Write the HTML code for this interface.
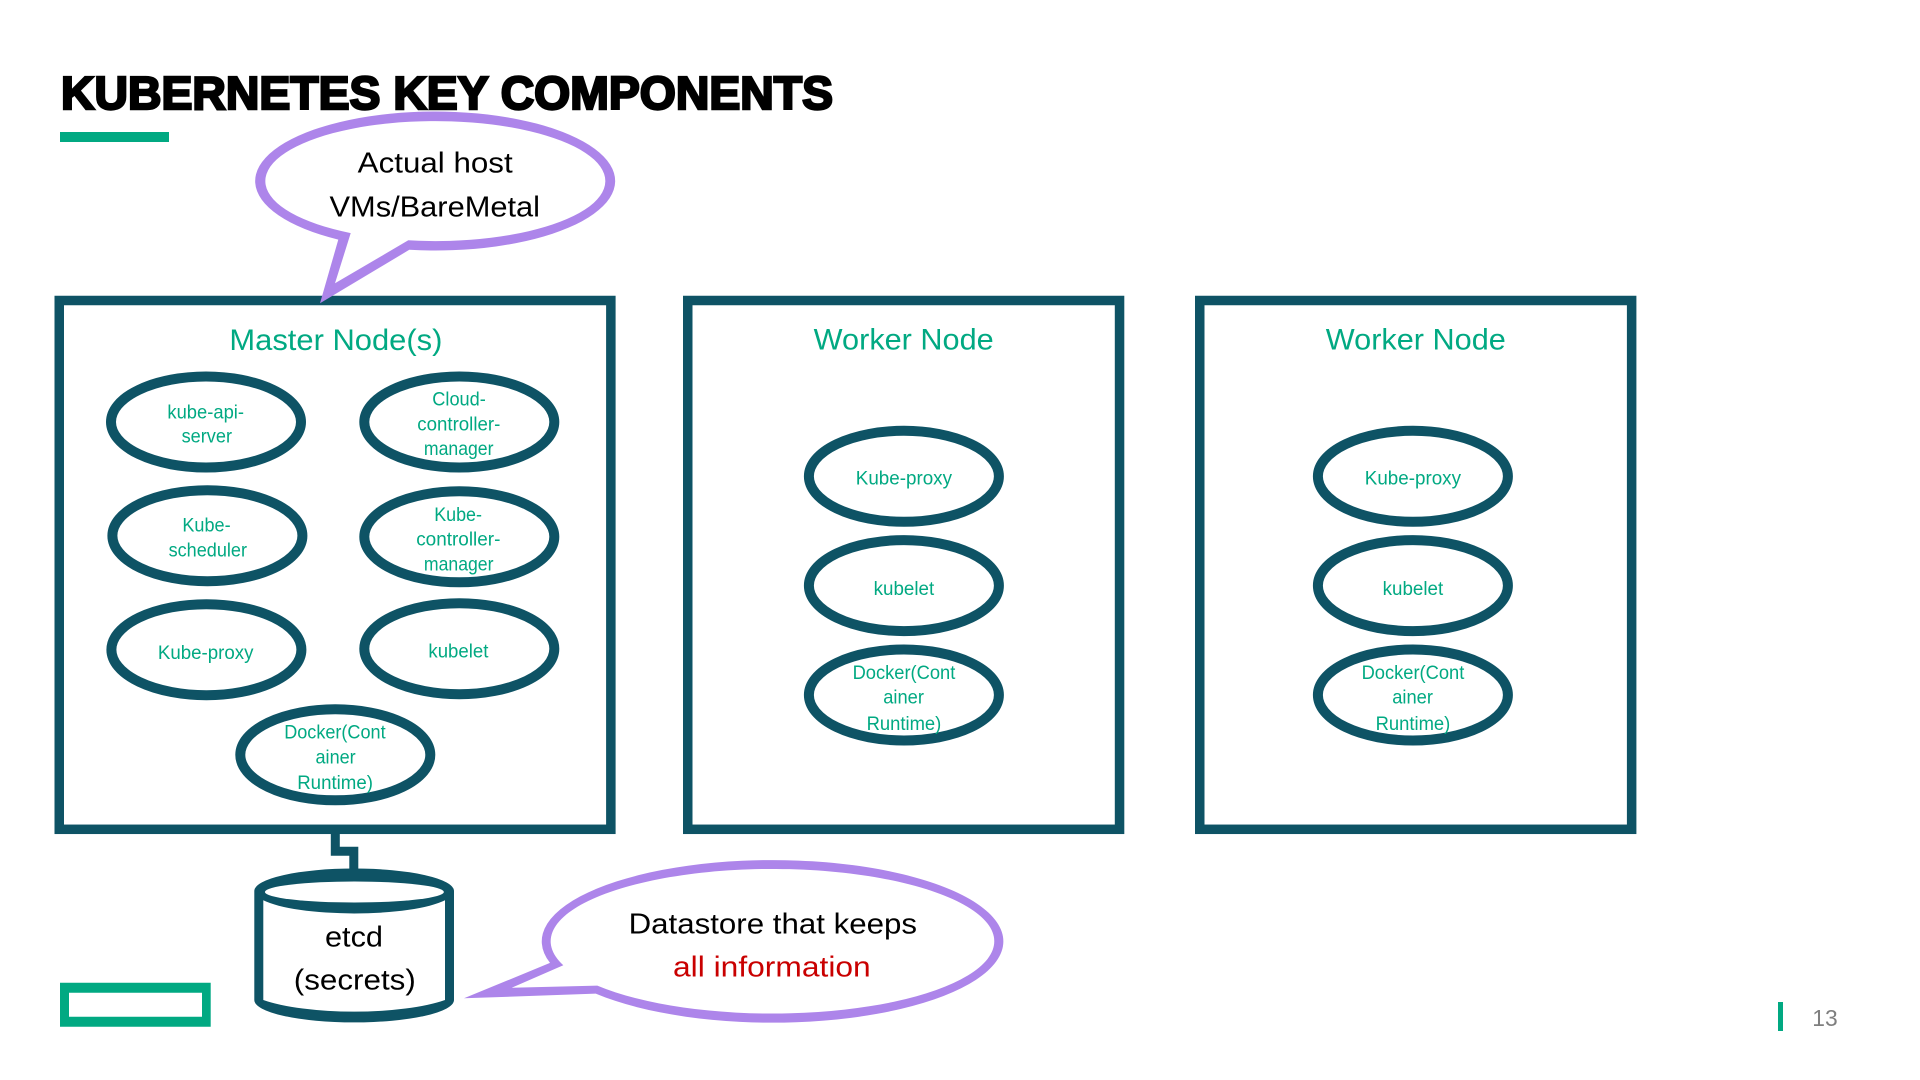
<!DOCTYPE html>
<html lang="en">
<head>
<meta charset="utf-8">
<title>Kubernetes Key Components</title>
<style>
html,body{margin:0;padding:0;background:#fff;width:1920px;height:1080px;overflow:hidden}
svg{display:block}
text{font-family:"Liberation Sans",sans-serif}
.g{fill:#01a982;font-size:19.5px}
.h{fill:#01a982;font-size:30px}
.b{fill:#000;font-size:29px}
</style>
</head>
<body>
<svg width="1920" height="1080" viewBox="0 0 1920 1080" xmlns="http://www.w3.org/2000/svg">
<rect width="1920" height="1080" fill="#fff"/>

<text x="61" y="108.8" font-size="46" font-weight="700" fill="#000" stroke="#000" stroke-width="2.4" textLength="772" lengthAdjust="spacingAndGlyphs">KUBERNETES KEY COMPONENTS</text>
<rect x="60" y="132" width="109" height="10" fill="#01a982"/>

<!-- Node boxes -->
<g fill="#fff" stroke="#0e5365" stroke-width="9.5">
<rect x="59.25" y="300.5" width="551.6" height="528.8"/>
<rect x="687.75" y="300.5" width="431.8" height="528.8"/>
<rect x="1199.75" y="300.5" width="431.9" height="528.8"/>
</g>

<!-- Connector -->
<path d="M335.3 834V851.2H353.8V872" fill="none" stroke="#0e5365" stroke-width="9"/>

<!-- Ellipses -->
<g fill="#fff" stroke="#0e5365" stroke-width="10">
<ellipse cx="206" cy="422" rx="95" ry="45.5"/>
<ellipse cx="459.3" cy="422" rx="95" ry="45.5"/>
<ellipse cx="207.4" cy="535.7" rx="95" ry="45.5"/>
<ellipse cx="459.3" cy="536.8" rx="95" ry="45.5"/>
<ellipse cx="206.4" cy="649.7" rx="95" ry="45.5"/>
<ellipse cx="459.3" cy="648.7" rx="95" ry="45.5"/>
<ellipse cx="335.3" cy="754.8" rx="95" ry="45.5"/>
<ellipse cx="903.9" cy="476.3" rx="95" ry="45.5"/>
<ellipse cx="903.9" cy="585.6" rx="95" ry="45.5"/>
<ellipse cx="903.9" cy="695" rx="95" ry="45.5"/>
<ellipse cx="1412.9" cy="476.3" rx="95" ry="45.5"/>
<ellipse cx="1412.9" cy="585.6" rx="95" ry="45.5"/>
<ellipse cx="1412.9" cy="695" rx="95" ry="45.5"/>
</g>

<!-- Box headings -->
<text class="h" x="229.4" y="350" textLength="213" lengthAdjust="spacingAndGlyphs">Master Node(s)</text>
<text class="h" x="813.7" y="349.6" textLength="180" lengthAdjust="spacingAndGlyphs">Worker Node</text>
<text class="h" x="1325.8" y="349.6" textLength="180" lengthAdjust="spacingAndGlyphs">Worker Node</text>

<!-- Master labels -->
<text class="g" x="167.4" y="418.3" textLength="76.6" lengthAdjust="spacingAndGlyphs">kube-api-</text>
<text class="g" x="181.6" y="442.7" textLength="50.4" lengthAdjust="spacingAndGlyphs">server</text>
<text class="g" x="432.3" y="405.7" textLength="53.5" lengthAdjust="spacingAndGlyphs">Cloud-</text>
<text class="g" x="417.3" y="430.7" textLength="83" lengthAdjust="spacingAndGlyphs">controller-</text>
<text class="g" x="423.9" y="455" textLength="69.6" lengthAdjust="spacingAndGlyphs">manager</text>
<text class="g" x="182.4" y="531.7" textLength="48.2" lengthAdjust="spacingAndGlyphs">Kube-</text>
<text class="g" x="168.6" y="556.7" textLength="78.4" lengthAdjust="spacingAndGlyphs">scheduler</text>
<text class="g" x="434.2" y="521" textLength="47.8" lengthAdjust="spacingAndGlyphs">Kube-</text>
<text class="g" x="416.2" y="545.7" textLength="84.2" lengthAdjust="spacingAndGlyphs">controller-</text>
<text class="g" x="423.9" y="570.7" textLength="69.6" lengthAdjust="spacingAndGlyphs">manager</text>
<text class="g" x="157.9" y="659" textLength="95.6" lengthAdjust="spacingAndGlyphs">Kube-proxy</text>
<text class="g" x="428.4" y="657.7" textLength="60" lengthAdjust="spacingAndGlyphs">kubelet</text>
<text class="g" x="284.2" y="738.3" textLength="101.4" lengthAdjust="spacingAndGlyphs">Docker(Cont</text>
<text class="g" x="315.5" y="763.3" textLength="40.2" lengthAdjust="spacingAndGlyphs">ainer</text>
<text class="g" x="297.2" y="789" textLength="75.8" lengthAdjust="spacingAndGlyphs">Runtime)</text>

<!-- Worker 1 labels -->
<text class="g" x="855.8" y="484.6" textLength="96.2" lengthAdjust="spacingAndGlyphs">Kube-proxy</text>
<text class="g" x="873.6" y="595.2" textLength="60.6" lengthAdjust="spacingAndGlyphs">kubelet</text>
<text class="g" x="852.6" y="679.2" textLength="102.7" lengthAdjust="spacingAndGlyphs">Docker(Cont</text>
<text class="g" x="883.2" y="703.6" textLength="40.8" lengthAdjust="spacingAndGlyphs">ainer</text>
<text class="g" x="866.6" y="730.2" textLength="74.7" lengthAdjust="spacingAndGlyphs">Runtime)</text>

<!-- Worker 2 labels -->
<text class="g" x="1364.8" y="484.6" textLength="96.2" lengthAdjust="spacingAndGlyphs">Kube-proxy</text>
<text class="g" x="1382.6" y="595.2" textLength="60.6" lengthAdjust="spacingAndGlyphs">kubelet</text>
<text class="g" x="1361.6" y="679.2" textLength="102.7" lengthAdjust="spacingAndGlyphs">Docker(Cont</text>
<text class="g" x="1392.2" y="703.6" textLength="40.8" lengthAdjust="spacingAndGlyphs">ainer</text>
<text class="g" x="1375.6" y="730.2" textLength="74.7" lengthAdjust="spacingAndGlyphs">Runtime)</text>

<!-- Cylinder -->
<path d="M254.3 891A99.85 22.5 0 0 1 454 891V1000A99.85 22.4 0 0 1 254.3 1000Z" fill="#0e5365"/>
<ellipse cx="354.4" cy="892" rx="89.5" ry="10.5" fill="#fff"/>
<path d="M263.3 900.3A99.85 22.5 0 0 0 445 900.3V1000A110 26.7 0 0 1 263.3 1000Z" fill="#fff"/>
<text class="b" x="325" y="946.7" textLength="58" lengthAdjust="spacingAndGlyphs">etcd</text>
<text class="b" x="293.8" y="989.3" textLength="122" lengthAdjust="spacingAndGlyphs">(secrets)</text>

<!-- Callout 1 -->
<path d="M338.3 239.6L320 303.3L409.3 249.8A180 69.5 0 1 0 338.3 239.6Z" fill="#ad85ea"/>
<path d="M350.7 233.1L335 283.3L408.3 240.3A170 60 0 1 0 350.7 233.1Z" fill="#fff"/>
<text class="b" x="357.7" y="172.7" textLength="155" lengthAdjust="spacingAndGlyphs">Actual host</text>
<text class="b" x="329.5" y="216.7" textLength="210.5" lengthAdjust="spacingAndGlyphs">VMs/BareMetal</text>

<!-- Callout 2 -->
<path d="M550 962.9L464 998.3L595.7 993.6A230.8 81.3 0 1 0 550 962.9Z" fill="#ad85ea"/>
<path d="M563.3 965.3L511.7 987.7L597.3 985.6A221.8 72.3 0 1 0 563.3 965.3Z" fill="#fff"/>
<text class="b" x="628.6" y="933.3" textLength="288.4" lengthAdjust="spacingAndGlyphs">Datastore that keeps</text>
<text x="673" y="976.3" font-size="29" fill="#c90000" textLength="197.7" lengthAdjust="spacingAndGlyphs">all information</text>

<!-- Logo -->
<path d="M60 982.7H210.7V1026.7H60ZM69 992.7V1016.7H202V992.7Z" fill="#01a982" fill-rule="evenodd"/>

<!-- Page number -->
<rect x="1778" y="1002" width="5" height="29" fill="#01a982"/>
<text x="1812.3" y="1026" font-size="23" fill="#7f7f7f" textLength="25.4" lengthAdjust="spacingAndGlyphs">13</text>
</svg>
</body>
</html>
